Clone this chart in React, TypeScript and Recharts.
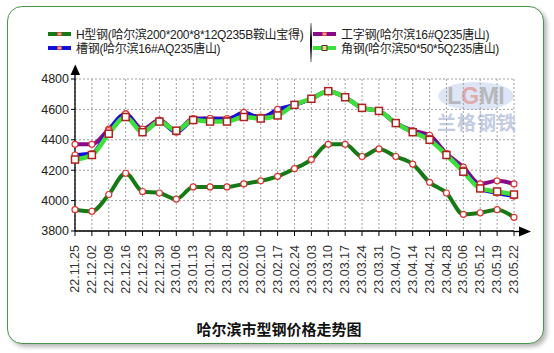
import React from 'react';
import { LineChart, Line, XAxis, YAxis, CartesianGrid } from 'recharts';

// weekly dates (yy.mm.dd)
const dates = [
  '22.11.25', '22.12.02', '22.12.09', '22.12.16', '22.12.23', '22.12.30', '23.01.06',
  '23.01.13', '23.01.20', '23.01.28', '23.02.03', '23.02.10', '23.02.17', '23.02.24',
  '23.03.03', '23.03.10', '23.03.17', '23.03.24', '23.03.31', '23.04.07', '23.04.14',
  '23.04.21', '23.04.28', '23.05.06', '23.05.12', '23.05.19', '23.05.22',
];

const hBeam = [3940, 3930, 4040, 4180, 4060, 4050, 4010, 4090, 4090, 4090, 4110, 4130, 4160, 4210,
  4270, 4370, 4370, 4290, 4340, 4290, 4240, 4120, 4050, 3910, 3920, 3940, 3890];
const iBeam = [4370, 4370, 4470, 4570, 4470, 4530, 4460, 4540, 4540, 4540, 4570, 4550, 4590, 4630,
  4670, 4720, 4680, 4610, 4590, 4510, 4460, 4430, 4310, 4220, 4110, 4130, 4110];
const channel = [4300, 4310, 4460, 4570, 4450, 4520, 4450, 4530, 4540, 4530, 4580, 4540, 4600, 4630,
  4670, 4720, 4680, 4610, 4590, 4510, 4450, 4410, 4300, 4200, 4080, 4050, 4030];
const angle = [4270, 4300, 4440, 4550, 4450, 4520, 4460, 4530, 4520, 4520, 4550, 4540, 4560, 4630,
  4670, 4720, 4680, 4610, 4590, 4510, 4450, 4400, 4300, 4190, 4080, 4060, 4040];

const yTicks = [3800, 4000, 4200, 4400, 4600, 4800];

const seriesNames = {
  hBeam: 'H型钢(哈尔滨200*200*8*12Q235B鞍山宝得)',
  channel: '槽钢(哈尔滨16#AQ235唐山)',
  iBeam: '工字钢(哈尔滨16#Q235唐山)',
  angle: '角钢(哈尔滨50*50*5Q235唐山)',
};

const data = dates.map((d, i) => ({
  date: d,
  hBeam: hBeam[i],
  iBeam: iBeam[i],
  channel: channel[i],
  angle: angle[i],
}));

const FONT = '"Liberation Sans", Arial, "Noto Sans CJK SC", sans-serif';

const circleDot = { r: 3, fill: '#fff', stroke: '#dd3333', strokeWidth: 1.2 };

const SquareDot = (props: any) => {
  const { cx, cy, index } = props;
  return (
    <rect key={`sq-${index}`} x={cx - 3.5} y={cy - 3.5} width={7} height={7}
      fill="#fff" stroke="#b02222" strokeWidth={1.5} />
  );
};

const DateTick = (props: any) => {
  const { x, y, payload } = props;
  return (
    <text x={x} y={y + 7} transform={`rotate(-90 ${x} ${y + 7})`} textAnchor="end" dy="0.33em"
      fontSize={12.5} fill="#333" fontFamily={FONT}>
      {payload.value}
    </text>
  );
};

const LegendItem = ({ color, label, square, left, top }: any) => (
  <div style={{ position: 'absolute', left, top, height: 14, display: 'flex', alignItems: 'center', whiteSpace: 'nowrap' }}>
    <svg width={23} height={8} style={{ marginRight: 5 }}>
      <line x1={0} y1={4} x2={23} y2={4} stroke={color} strokeWidth={4} />
      {square
        ? <rect x={9} y={1.5} width={5} height={5} fill="#e8d8a0" stroke="#553322" strokeWidth={1} />
        : <rect x={9.5} y={2.5} width={4} height={3} fill="#f0a0a0" stroke="#dd4444" strokeWidth={0.8} />}
    </svg>
    <span style={{ fontSize: 12, letterSpacing: -0.3, color: '#222', fontFamily: FONT }}>{label}</span>
  </div>
);

export default function App() {
  return (
    <div style={{ position: 'absolute', left: 0, top: 0, width: 554, height: 353, background: '#fff', overflow: 'hidden' }}>
      <div style={{
        position: 'absolute', left: 7, top: 6, width: 535, height: 336,
        border: '1.5px solid #4a954a', borderRadius: 15, background: '#fff',
        boxShadow: '3px 3px 4px rgba(0,0,0,0.28)',
      }} />

      {/* watermark */}
      <svg width={554} height={353} style={{ position: 'absolute', left: 0, top: 0 }}>
        <ellipse cx={476} cy={96} rx={38} ry={14} fill="#c8d3ec" opacity={0.6} />
        <text x={476} y={104} textAnchor="middle" fontSize={23} fontWeight="bold" fill="#a6a6a6"
          fontFamily={FONT} opacity={0.7}>
          L<tspan fill="#e29090">G</tspan>MI
        </text>
        <text x={477} y={130} textAnchor="middle" fontSize={19} fill="#b4c0dc" fontWeight="bold"
          fontFamily='"Noto Sans CJK SC", sans-serif' letterSpacing={1} opacity={0.8}>
          兰格钢铁
        </text>
      </svg>

      <div style={{ position: 'absolute', left: 0, top: 0 }}>
        <LineChart width={554} height={353} data={data} margin={{ top: 79, right: 40, left: 8, bottom: 52 }}>
          <CartesianGrid strokeDasharray="2 2" stroke="#a0a0a0" />
          <XAxis dataKey="date" interval={0} height={70} tick={<DateTick />} tickSize={5}
            axisLine={{ stroke: '#000', strokeWidth: 1.3 }} tickLine={{ stroke: '#000' }} />
          <YAxis width={67} domain={[3800, 4800]} ticks={yTicks} tickSize={4} allowDataOverflow
            axisLine={{ stroke: '#000', strokeWidth: 1.3 }} tickLine={{ stroke: '#000' }}
            tick={{ fontSize: 12.5, fill: '#222', fontFamily: FONT }} />
          <Line type="monotone" dataKey="hBeam" name={seriesNames.hBeam} stroke="#157a15" strokeWidth={4}
            dot={circleDot} isAnimationActive={false} />
          <Line type="monotone" dataKey="iBeam" name={seriesNames.iBeam} stroke="#880a88" strokeWidth={4}
            dot={circleDot} isAnimationActive={false} />
          <Line type="monotone" dataKey="channel" name={seriesNames.channel} stroke="#1010dd" strokeWidth={4}
            dot={circleDot} isAnimationActive={false} />
          <Line type="monotone" dataKey="angle" name={seriesNames.angle} stroke="#3be03b" strokeWidth={4.5}
            dot={<SquareDot />} isAnimationActive={false} />
        </LineChart>
      </div>

      {/* axis arrows */}
      <svg width={554} height={353} style={{ position: 'absolute', left: 0, top: 0, pointerEvents: 'none' }}>
        <line x1={75} y1={79} x2={75} y2={72} stroke="#000" strokeWidth={1.3} />
        <polygon points="75.3,64.5 70.5,75 80,75" fill="#000" />
        <line x1={514} y1={231.5} x2={520} y2={231.5} stroke="#000" strokeWidth={1.3} />
        <polygon points="519,226.5 531,231.5 519,236.5" fill="#000" />
      </svg>

      {/* legend */}
      <LegendItem color="#157a15" label={seriesNames.hBeam} left={48} top={26.5} />
      <LegendItem color="#1010dd" label={seriesNames.channel} left={48} top={40.5} />
      <LegendItem color="#880a88" label={seriesNames.iBeam} left={313} top={26.5} />
      <LegendItem color="#3be03b" label={seriesNames.angle} square left={313} top={40.5} />
      <div style={{ position: 'absolute', left: 310, top: 23, width: 1.5, height: 39,
        background: 'linear-gradient(#bbb, #111 40%, #111 60%, #bbb)' }} />

      <div style={{
        position: 'absolute', left: 0, width: 554, top: 318, textAlign: 'center', paddingLeft: 2,
        fontSize: 15, fontWeight: 'bold', color: '#111', fontFamily: '"Noto Sans CJK SC", sans-serif',
      }}>
        哈尔滨市型钢价格走势图
      </div>
    </div>
  );
}
